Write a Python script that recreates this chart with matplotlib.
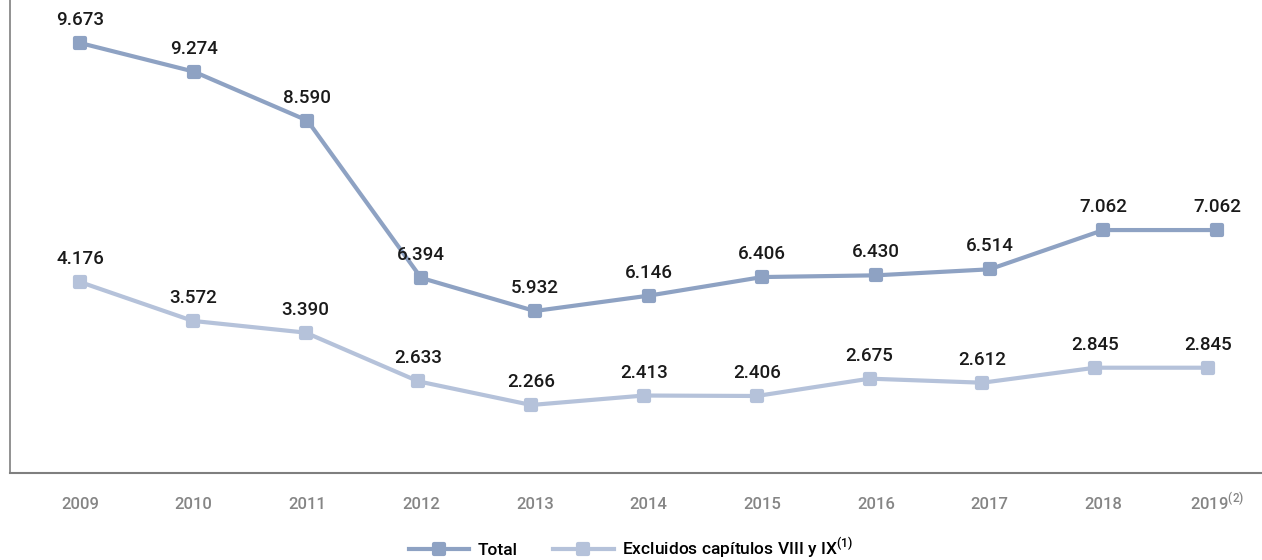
import matplotlib.pyplot as plt
from matplotlib.markers import MarkerStyle
from matplotlib.lines import Line2D

years = [2009, 2010, 2011, 2012, 2013, 2014, 2015, 2016, 2017, 2018, 2019]
year_labels = ["2009", "2010", "2011", "2012", "2013", "2014", "2015", "2016",
               "2017", "2018", r"2019$^{\mathregular{(2)}}$"]
total = [9.673, 9.274, 8.590, 6.394, 5.932, 6.146, 6.406, 6.430, 6.514, 7.062, 7.062]
excluidos = [4.176, 3.572, 3.390, 2.633, 2.266, 2.413, 2.406, 2.675, 2.612, 2.845, 2.845]

c_total = "#8ea2c3"
c_excl = "#b5c2da"

plt.rcParams['font.family'] = ['Roboto', 'DejaVu Sans']

fig = plt.figure(figsize=(12.62, 5.6), dpi=100)
rect = [10 / 1262, 87 / 560, 1 - 10 / 1262, 473 / 560]
ax = fig.add_axes(rect)
# second series sits on its own scale in the original
ax2 = fig.add_axes(rect, frameon=False)

mk = MarkerStyle('s', joinstyle='round')


def fmt(v):
    return f"{v:.3f}"


for a, data, col in [(ax, total, c_total), (ax2, excluidos, c_excl)]:
    a.plot(years, data, color=col, lw=3, marker=mk, ms=7.5, mew=3,
           mec=col, mfc=col, solid_joinstyle='round', zorder=3)
    for x, v in zip(years, data):
        a.annotate(fmt(v), (x, v), xytext=(0, 10), textcoords='offset points',
                   ha='center', va='bottom', fontsize=13.5, color='#1a1a1a',
                   fontweight='medium')

ax.set_xlim(2009 - 0.616, 2019 + 0.396)
ax.set_ylim(3.671, 10.273)
ax2.set_xlim(2009 - 0.6206, 2019 + 0.4787)
ax2.set_ylim(1.210, 8.555)
ax2.set_xticks([])
ax2.set_yticks([])

for s in ['top', 'right']:
    ax.spines[s].set_visible(False)
ax.set_yticks([])
ax.spines['left'].set_color('#7f7f7f')
ax.spines['bottom'].set_color('#7f7f7f')
ax.spines['left'].set_linewidth(1.2)
ax.spines['bottom'].set_linewidth(1.5)

ax.set_xticks(years)
ax.set_xticklabels(year_labels, fontsize=12, color='#858585', fontweight='medium')
ax.tick_params(axis='x', length=0, pad=26)
for lbl in ax.get_xticklabels():
    lbl.set_va('baseline')

handles = [
    Line2D([], [], color=c_total, lw=3, marker=mk, ms=7.5, mew=3, mfc=c_total, mec=c_total),
    Line2D([], [], color=c_excl, lw=3, marker=mk, ms=7.5, mew=3, mfc=c_excl, mec=c_excl),
]
fig.legend(handles, ["Total", r"Excluidos capítulos VIII y IX$^{\mathregular{(1)}}$"],
           loc='center', bbox_to_anchor=(0.5, 12 / 560), ncol=2, frameon=False,
           handlelength=3.5, columnspacing=2.0, handletextpad=0.5,
           prop={'weight': 'medium', 'size': 12.5})

fig.savefig("out.png", dpi=100)
